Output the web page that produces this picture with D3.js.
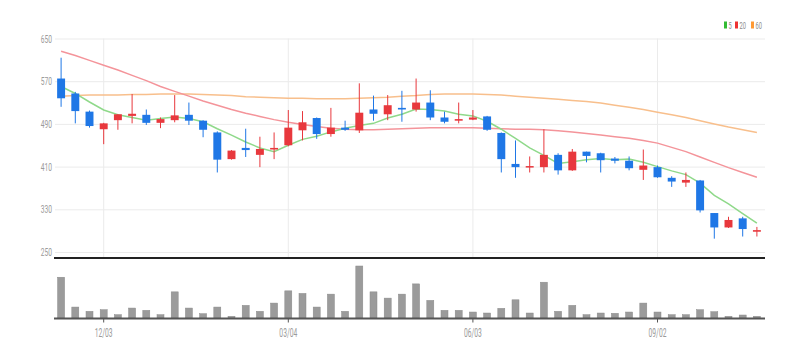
<!DOCTYPE html>
<html><head><meta charset="utf-8">
<script src="https://cdn.jsdelivr.net/npm/d3@7"></script>
<style>body{margin:0;background:#fff;overflow:hidden}</style>
</head><body>
<svg id="c" width="805" height="359"></svg>
<script>
const dates = ["11/12","11/19","11/26","12/03","12/10","12/17","12/24","12/31",
 "01/07","01/14","01/21","01/28","02/04","02/11","02/18","02/25","03/04","03/11","03/18","03/25",
 "04/01","04/08","04/15","04/22","04/29","05/06","05/13","05/20","05/27","06/03","06/10","06/17","06/24",
 "07/01","07/08","07/15","07/22","07/29","08/05","08/12","08/19","08/26","09/02","09/09","09/16","09/23",
 "09/30","10/07","10/14","10/21"];
const openV  = [575,547,513,480,497,505,507,492,497,507,496,474,424,445,432,442,450,478,501,471,483,478,517,508,520,517,530,502,496,498,504,473,415,409,409,432,403,438,435,425,421,404,409,389,380,384,323,296,313,288];
const closeV = [538,514,486,491,508,509,492,499,506,496,479,423,440,441,443,445,483,493,471,483,479,511,509,525,517,530,502,494,499,502,479,424,409,411,432,403,438,430,422,421,407,412,390,382,385,328,296,310,293,291];
const highV  = [614,550,515,492,508,546,517,502,544,530,497,476,441,481,466,474,516,514,502,520,496,566,543,544,552,575,553,513,530,516,505,474,459,429,480,435,443,438,436,428,429,442,412,392,399,385,323,316,316,297];
const lowV   = [522,491,483,452,479,491,488,482,493,488,465,399,423,428,409,424,448,459,462,466,477,473,496,497,494,513,497,491,491,497,477,399,389,399,399,395,402,418,399,416,403,385,389,372,372,324,275,295,279,279];
const volumeV = [820,220,134,166,66,200,154,66,526,200,86,220,34,254,134,300,546,494,220,480,134,1046,526,400,480,686,354,154,154,120,100,194,366,100,720,134,254,66,100,94,120,300,120,66,66,166,126,34,60,34];
const ma5  = [560,547,531,516,507,502,497,500,503,500,494,481,469,456,445,438,450,461,467,475,482,487,491,501,508,518,517,514,508,505,495,480,463,445,431,416,419,423,425,423,424,418,410,402,395,379,356,340,322,304];
const ma20 = [626,618,609,600,591,581,571,560,551,542,533,525,517,510,504,498,493,489,485,482,480,479,479,480,481,482,483,483,483,483,482,481,480,480,479,477,475,472,469,466,463,459,454,446,438,428,418,408,399,390];
const ma60 = [542,543,544,544,544,545,545,546,546,546,545,544,543,541,540,539,538,538,537,537,537,538,539,540,542,543,545,546,546,546,545,544,542,540,538,536,534,532,529,525,521,517,512,507,502,496,490,484,479,474];
const priceTicks = [250,330,410,490,570,650];
const dateTicks = ["12/03","03/04","06/03","09/02"];
const legendLabels = ["5","20","60"];

const svg = d3.select("#c");
const L = 55, R = 765;
const x = d3.scaleBand().domain(dates).range([54, 764]).paddingInner(0.44).paddingOuter(0.22);
const cx = d => x(d) + x.bandwidth()/2;
const y = d3.scaleLinear().domain([250, 650]).range([252, 38.5]);
const yv = d3.scaleLinear().domain([0, 1046]).range([318, 266]);

const upC = "#e8383d", downC = "#1f77e6";

// y grid + labels
const ya = svg.append("g").attr("transform", `translate(${L},0)`)
  .call(d3.axisLeft(y).tickValues(priceTicks).tickSize(-(R - L)).tickFormat(d3.format("d")));
ya.select(".domain").remove();
ya.selectAll("line").attr("stroke", "#ebebeb");
ya.selectAll("text").attr("fill", "#9a9a9a").style("font-family", "Roboto, Arial, sans-serif")
  .style("font-size", "11.5px").attr("x", -5).attr("transform", "scale(0.58,1)");

// vertical grid
svg.append("g").selectAll("line").data(dateTicks).join("line")
  .attr("x1", d => cx(d)).attr("x2", d => cx(d)).attr("y1", 38.5).attr("y2", 257)
  .attr("stroke", "#ebebeb");

// MA lines
const line = arr => d3.line().x((d, i) => cx(dates[i])).y(d => y(d))(arr);
svg.append("path").attr("d", line(ma60)).attr("fill", "none").attr("stroke", "#f8bf8c").attr("stroke-width", 1.5);
svg.append("path").attr("d", line(ma20)).attr("fill", "none").attr("stroke", "#f4949a").attr("stroke-width", 1.5);
svg.append("path").attr("d", line(ma5)).attr("fill", "none").attr("stroke", "#8fd98a").attr("stroke-width", 1.5);

// candles
const cd = dates.map((d, i) => ({d, o: openV[i], c: closeV[i], h: highV[i], l: lowV[i]}));
const cg = svg.append("g").selectAll("g").data(cd).join("g");
cg.append("line").attr("x1", d => cx(d.d)).attr("x2", d => cx(d.d))
  .attr("y1", d => y(d.h)).attr("y2", d => y(d.l))
  .attr("stroke", d => d.c >= d.o ? upC : downC).attr("stroke-width", 1);
cg.append("rect").attr("x", d => x(d.d)).attr("width", x.bandwidth())
  .attr("y", d => y(Math.max(d.o, d.c)))
  .attr("height", d => Math.max(1.5, Math.abs(y(d.o) - y(d.c))))
  .attr("fill", d => d.c >= d.o ? upC : downC);

// separator line under price chart
svg.append("line").attr("x1", 54).attr("x2", R).attr("y1", 258).attr("y2", 258)
  .attr("stroke", "#222").attr("stroke-width", 2);

// volume bars
svg.append("g").selectAll("rect").data(volumeV).join("rect")
  .attr("x", (d, i) => cx(dates[i]) - 3.5).attr("width", 7)
  .attr("y", d => yv(d)).attr("height", d => yv(0) - yv(d))
  .attr("fill", "#9b9b9b").attr("stroke", "#8a8a8a").attr("stroke-width", 0.5);

// x axis
const xa = svg.append("g").attr("transform", "translate(0,318.5)")
  .call(d3.axisBottom(x).tickValues(dateTicks).tickSize(4).tickPadding(6));
xa.select(".domain").attr("stroke", "#555").attr("stroke-width", 2.2).attr("d", `M54,0H${R}`);
xa.selectAll("line").attr("stroke", "#555");
xa.selectAll("text").attr("fill", "#9a9a9a").style("font-family", "Roboto, Arial, sans-serif")
  .style("font-size", "12px").attr("transform", "scale(0.56,1)");

// legend
const legColors = ["#33bb33", "#ee3333", "#ff9933"];
const legX = [724, 735, 751];
const lg = svg.append("g").selectAll("g").data(legendLabels).join("g")
  .attr("transform", (d, i) => `translate(${legX[i]},21.5)`);
lg.append("rect").attr("width", 3).attr("height", 7).attr("fill", (d, i) => legColors[i]);
lg.append("text").text(d => d).attr("x", 4.5).attr("y", 7)
  .attr("fill", "#888").style("font-family", "Roboto, Arial, sans-serif").style("font-size", "9.5px")
  .attr("transform", "translate(4.5,0) scale(0.6,1) translate(-4.5,0)");
</script>
</body></html>
